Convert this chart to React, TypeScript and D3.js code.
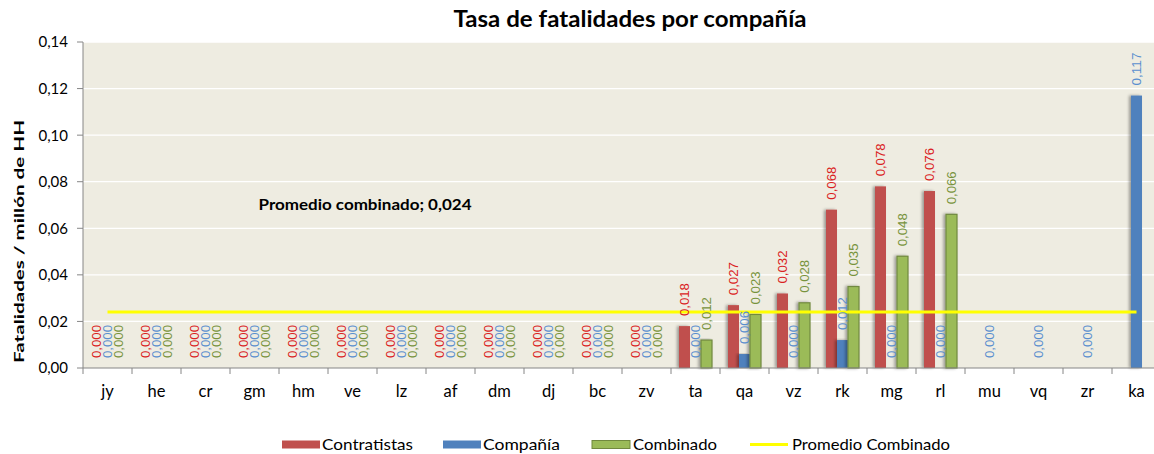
import React from 'react';
import * as d3 from 'd3';

const categories = ['jy', 'he', 'cr', 'gm', 'hm', 've', 'lz', 'af', 'dm', 'dj', 'bc', 'zv', 'ta', 'qa', 'vz', 'rk', 'mg', 'rl', 'mu', 'vq', 'zr', 'ka'];
const contratistas: (number | null)[] = [0, 0, 0, 0, 0, 0, 0, 0, 0, 0, 0, 0, 0.018, 0.027, 0.032, 0.068, 0.078, 0.076, null, null, null, null];
const compania: (number | null)[] = [0, 0, 0, 0, 0, 0, 0, 0, 0, 0, 0, 0, 0, 0.006, 0, 0.012, 0, 0, 0, 0, 0, 0.117];
const combinado: (number | null)[] = [0, 0, 0, 0, 0, 0, 0, 0, 0, 0, 0, 0, 0.012, 0.023, 0.028, 0.035, 0.048, 0.066, null, null, null, null];
const promedioCombinado = 0.024;
const yTicks = [0, 0.02, 0.04, 0.06, 0.08, 0.1, 0.12, 0.14];
const seriesNames = ['Contratistas', 'Compañía', 'Combinado'];
const lineName = 'Promedio Combinado';
const titleText = 'Tasa de fatalidades por compañía';
const yTitleText = 'Fatalidades / millón de HH';

const W = 1154;
const H = 454;
const plot = { left: 83, top: 42, bottom: 368, right: 83 + 22 * 49 };

const fill = ['#C0504D', '#4F81BD', '#9BBB59'];
const stroke = ['none', 'none', '#71893F'];
const labelColor = ['#DA2121', '#5A8FCF', '#77933C'];

const locale = d3.formatLocale({ decimal: ',', thousands: '.', grouping: [3], currency: ['', '€'] });
const fmt3 = locale.format('.3f');
const fmt2 = locale.format('.2f');

export default function App() {
  const x = d3.scaleBand<string>().domain(categories).range([plot.left, plot.right]).paddingInner(0).paddingOuter(0);
  const xs = d3.scaleBand<string>().domain(seriesNames).range([0, x.bandwidth()]).paddingInner(0).paddingOuter(8 / 11);
  const y = d3.scaleLinear().domain([0, 0.14]).range([plot.bottom, plot.top]);
  const data = [contratistas, compania, combinado];
  const font = 'Lato, "Open Sans", sans-serif';

  const lineX1 = (x(categories[0]) as number) + x.bandwidth() / 2;
  const lineX2 = (x(categories[categories.length - 1]) as number) + x.bandwidth() / 2;

  const legendItems = [
    { kind: 'rect', i: 0, x: 282, tx: 322, tw: 91 },
    { kind: 'rect', i: 1, x: 443, tx: 483, tw: 77 },
    { kind: 'rect', i: 2, x: 592, tx: 633, tw: 84 },
    { kind: 'line', i: 3, x: 750, tx: 792, tw: 158 },
  ];

  return (
    <svg width={W} height={H} style={{ position: 'absolute', left: 0, top: 0, background: '#fff' }}>
      <defs>
        <filter id="sh" x="-60%" y="-5%" width="220%" height="110%">
          <feDropShadow dx={-2} dy={0} stdDeviation={1.4} floodColor="#000" floodOpacity={0.35} />
        </filter>
      </defs>
      <rect x={0} y={0} width={W} height={H} fill="#fff" />
      <text x={630} y={27} textAnchor="middle" fontFamily={font} fontWeight={700} fontSize={22} textLength={353} lengthAdjust="spacingAndGlyphs" fill="#000">{titleText}</text>

      {/* plot area */}
      <rect x={plot.left} y={plot.top} width={plot.right - plot.left} height={plot.bottom - plot.top} fill="#EEECE1" />
      {yTicks.slice(1).map((t) => (
        <line key={'g' + t} x1={plot.left} x2={plot.right} y1={y(t)} y2={y(t)} stroke="#fff" strokeWidth={1.3} />
      ))}

      {/* bars */}
      {data.map((series, si) =>
        series.map((v, ci) => {
          if (v === null || v === 0) return null;
          const bx = (x(categories[ci]) as number) + (xs(seriesNames[si]) as number);
          return (
            <rect key={`b${si}-${ci}`} x={bx} y={y(v)} width={xs.bandwidth()} height={y(0) - y(v)} fill={fill[si]}
              stroke={stroke[si]} strokeWidth={1.2} filter="url(#sh)" />
          );
        })
      )}

      {/* average line */}
      <line x1={lineX1} x2={lineX2} y1={y(promedioCombinado)} y2={y(promedioCombinado)} stroke="#FFFF00" strokeWidth={3} />

      {/* data labels */}
      {data.map((series, si) =>
        series.map((v, ci) => {
          if (v === null) return null;
          const cx = (x(categories[ci]) as number) + (xs(seriesNames[si]) as number) + xs.bandwidth() / 2;
          const ty = y(v) - 10;
          return (
            <text key={`l${si}-${ci}`} transform={`translate(${cx},${ty}) rotate(-90)`} dy="0.36em" fontFamily='"Liberation Sans", Arial, sans-serif'
              fontSize={13} fill={labelColor[si]} textLength={33} lengthAdjust="spacingAndGlyphs">{fmt3(v)}</text>
          );
        })
      )}

      {/* axes */}
      <line x1={plot.left} x2={plot.left} y1={plot.top} y2={plot.bottom} stroke="#868686" />
      <line x1={plot.left} x2={plot.right} y1={plot.bottom} y2={plot.bottom} stroke="#868686" />
      {yTicks.map((t) => (
        <g key={'t' + t}>
          <line x1={plot.left - 6} x2={plot.left} y1={y(t)} y2={y(t)} stroke="#868686" />
          <text x={68} y={y(t)} dy="0.36em" textAnchor="end" fontFamily={font} fontSize={15} fill="#000">{fmt2(t)}</text>
        </g>
      ))}
      {categories.map((c) => (
        <g key={'c' + c}>
          <line x1={(x(c) as number)} x2={(x(c) as number)} y1={plot.bottom} y2={plot.bottom + 6} stroke="#868686" />
          <text x={(x(c) as number) + x.bandwidth() / 2} y={397} textAnchor="middle" fontFamily={font} fontSize={16.5} fill="#000">{c}</text>
        </g>
      ))}
      <text transform={`translate(24,241.5) rotate(-90)`} textAnchor="middle" fontFamily={font} fontWeight={700} fontSize={14} fill="#000"
        textLength={243} lengthAdjust="spacingAndGlyphs">{yTitleText}</text>

      {/* annotation */}
      <text x={258.5} y={210} fontFamily={font} fontWeight={700} fontSize={15.5} fill="#000" textLength={213} lengthAdjust="spacingAndGlyphs">
        {`Promedio combinado; ${locale.format('.3f')(promedioCombinado)}`}
      </text>

      {/* legend */}
      {legendItems.map((it) => (
        <g key={'lg' + it.i}>
          {it.kind === 'rect' ? (
            <rect x={it.x} y={440.5} width={38} height={8} fill={fill[it.i]} stroke={stroke[it.i]} strokeWidth={1} />
          ) : (
            <line x1={it.x} x2={it.x + 38} y1={444.5} y2={444.5} stroke="#FFFF00" strokeWidth={3} />
          )}
          <text x={it.tx} y={450} fontFamily={font} fontSize={16} fill="#000" textLength={it.tw} lengthAdjust="spacingAndGlyphs">
            {it.i < 3 ? seriesNames[it.i] : lineName}
          </text>
        </g>
      ))}
    </svg>
  );
}
